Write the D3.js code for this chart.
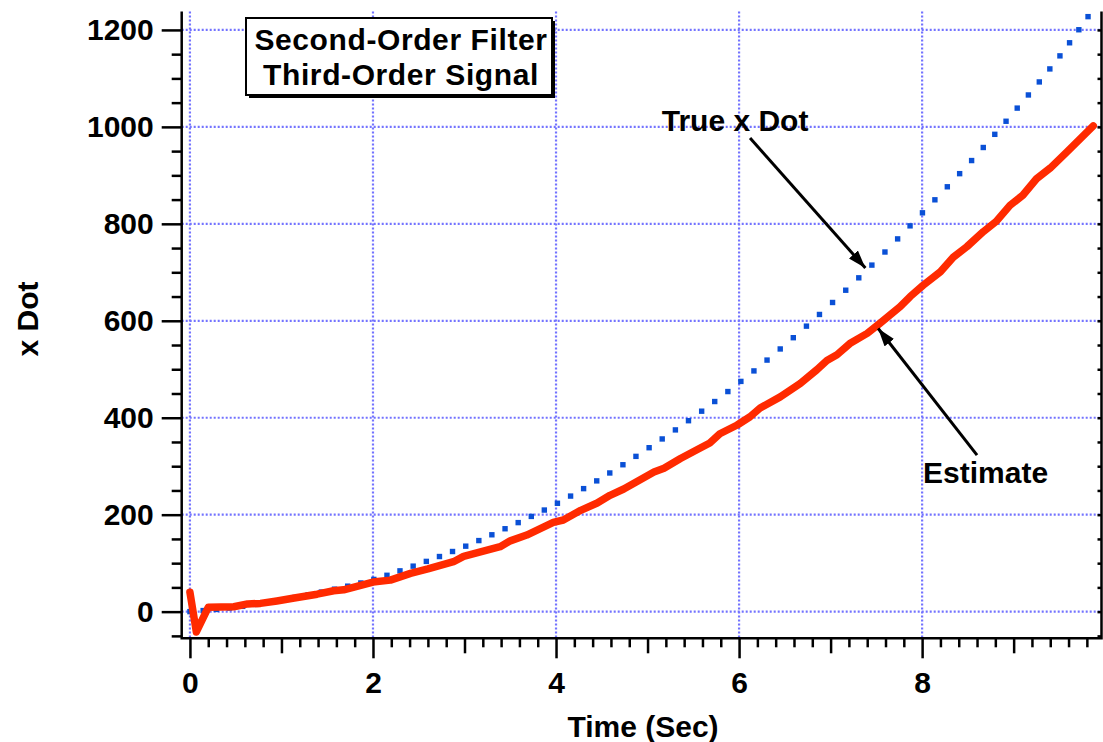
<!DOCTYPE html>
<html>
<head>
<meta charset="utf-8">
<style>
html, body { margin:0; padding:0; background:white; }
svg text { font-family:"Liberation Sans", Arial, Helvetica, sans-serif; font-weight:bold; fill:black; }
.axis line { stroke:black; stroke-width:2.5; }
.axis path { display:none; }
</style>
</head>
<body>
<div id="chart"></div>
<script src="https://d3js.org/d3.v7.min.js"></script>
<script>
// true x dot
const tTrue = [0, 0.5, 1, 1.5, 2, 2.5, 3, 3.5, 4, 4.5, 5, 5.5, 6, 6.5, 7, 7.5, 8, 8.5, 9, 9.5, 9.83];
const vTrue = [0, 9, 24, 43, 66, 98, 134, 176, 222, 276, 336, 401, 472, 550, 634, 724, 822, 922, 1030, 1145, 1232];

// filter estimate (red curve)
const tEst = [0, 0.07, 0.2, 0.48, 0.63, 0.77, 0.95, 1.14, 1.39, 1.57, 1.68, 2.0, 2.19, 2.41, 2.6, 2.88, 2.99,
  3.39, 3.5, 3.68, 3.97, 4.08, 4.27, 4.45, 4.59, 4.74, 5.07, 5.18, 5.36, 5.54, 5.68, 5.79, 5.98, 6.12, 6.23,
  6.45, 6.67, 6.85, 6.96, 7.07, 7.21, 7.4, 7.54, 7.76, 7.87, 8.01, 8.2, 8.34, 8.49, 8.67, 8.81, 8.96, 9.1,
  9.25, 9.4, 9.58, 9.87];
const vEst = [40, -42, 9, 10, 16, 17, 22, 28, 36, 43, 45, 61, 65, 79, 88, 103, 114,
  134, 146, 158, 184, 189, 209, 224, 240, 253, 288, 296, 316, 334, 348, 367, 385, 402, 420,
  443, 471, 499, 518, 530, 553, 574, 595, 629, 650, 673, 701, 731, 753, 784, 805, 838, 859,
  893, 915, 948, 1002];

const xMajor = [0, 2, 4, 6, 8];
const xMid = [1, 3, 5, 7, 9];
const yMajor = [0, 200, 400, 600, 800, 1000, 1200];
const boxLines = ["Second-Order Filter", "Third-Order Signal"];

const W = 1103, H = 742;
const margin = {top: 11.5, right: 1.5, bottom: 103.7, left: 181.7};
const width = W - margin.left - margin.right,
      height = H - margin.top - margin.bottom;

const svg = d3.select("#chart").append("svg").attr("width", W).attr("height", H);
const g = svg.append("g").attr("transform", `translate(${margin.left},${margin.top})`);

const x = d3.scaleLinear().domain([-0.09, 9.96]).range([0, width]);
const y = d3.scaleLinear().domain([-55, 1238]).range([height, 0]);

// tick positions
const xMinor = d3.range(1, 50).map(i => i / 5).filter(v => Math.abs(v - Math.round(v)) > 1e-6);
const yMinor = d3.range(-50, 1201, 50).filter(v => v % 200 !== 0);
const yAll = d3.range(-50, 1201, 50);

// grid
const gridCol = "#7373ff";
g.append("g").selectAll("line").data(yMajor).join("line")
  .attr("x1", 0).attr("x2", width)
  .attr("y1", d => y(d)).attr("y2", d => y(d))
  .attr("stroke", gridCol).attr("stroke-width", 2.2).attr("stroke-dasharray", "2,2");
g.append("g").selectAll("line").data(xMajor).join("line")
  .attr("x1", d => x(d)).attr("x2", d => x(d))
  .attr("y1", 0).attr("y2", height)
  .attr("stroke", gridCol).attr("stroke-width", 2.2).attr("stroke-dasharray", "2,2");

// axes
g.append("g").attr("class", "axis").attr("transform", `translate(0,${height})`)
  .call(d3.axisBottom(x).tickValues(xMinor).tickSize(9).tickFormat(""));
g.append("g").attr("class", "axis").attr("transform", `translate(0,${height})`)
  .call(d3.axisBottom(x).tickValues(xMid).tickSize(15).tickFormat(""));
g.append("g").attr("class", "axis").attr("transform", `translate(0,${height})`)
  .call(d3.axisBottom(x).tickValues(xMajor).tickSize(20).tickPadding(13).tickFormat(d3.format("d")))
  .selectAll("text").style("font-size", "30px");

g.append("g").attr("class", "axis")
  .call(d3.axisLeft(y).tickValues(yMinor).tickSize(10).tickFormat(""));
g.append("g").attr("class", "axis")
  .call(d3.axisLeft(y).tickValues(yMajor).tickSize(20).tickPadding(8).tickFormat(d3.format("d")))
  .selectAll("text").style("font-size", "30px");

g.append("g").attr("class", "axis").attr("transform", `translate(${width},0)`)
  .call(d3.axisRight(y).tickValues(yAll).tickSize(-4).tickFormat(""));

// frame (left, bottom, right)
g.append("path")
  .attr("d", `M0,0V${height}H${width}V0`)
  .attr("fill", "none").attr("stroke", "black").attr("stroke-width", 2.5);

// true x dot: dotted line
const trueLine = d3.line().x((d, i) => x(tTrue[i])).y(d => y(d)).curve(d3.curveMonotoneX);
const guide = g.append("path").attr("d", trueLine(vTrue)).attr("fill", "none").attr("stroke", "none");
const node = guide.node(), L = node.getTotalLength();
const dots = [];
let last = null;
for (let s = 0; s <= L; s += 0.25) {
  const p = node.getPointAtLength(s);
  if (!last || Math.max(Math.abs(p.x - last.x), Math.abs(p.y - last.y)) >= 13) {
    dots.push(p); last = p;
  }
}
g.append("g").selectAll("rect").data(dots).join("rect")
  .attr("x", p => p.x - 2.7).attr("y", p => p.y - 2.7)
  .attr("width", 5.4).attr("height", 5.4)
  .attr("fill", "#0a50d6");

// estimate
const estLine = d3.line().x((d, i) => x(tEst[i])).y(d => y(d));
g.append("path").attr("d", estLine(vEst))
  .attr("fill", "none").attr("stroke", "#ff2a00").attr("stroke-width", 7.5)
  .attr("stroke-linejoin", "round").attr("stroke-linecap", "round");

// arrows + labels
svg.append("defs").append("marker")
  .attr("id", "ah").attr("viewBox", "0 0 18 12").attr("refX", 18).attr("refY", 6)
  .attr("markerWidth", 18).attr("markerHeight", 12).attr("markerUnits", "userSpaceOnUse")
  .attr("orient", "auto")
  .append("path").attr("d", "M0,0L18,6L0,12Z").attr("fill", "black");

const notes = [
  {label: "True x Dot", lt: 5.155, lv: 992, from: [6.12, 977], to: [7.38, 709]},
  {label: "Estimate", lt: 8.01, lv: 266, from: [8.6, 323], to: [7.52, 584]}
];
notes.forEach(n => {
  g.append("line")
    .attr("x1", x(n.from[0])).attr("y1", y(n.from[1]))
    .attr("x2", x(n.to[0])).attr("y2", y(n.to[1]))
    .attr("stroke", "black").attr("stroke-width", 3)
    .attr("marker-end", "url(#ah)");
  g.append("text").attr("x", x(n.lt)).attr("y", y(n.lv))
    .style("font-size", "30px").text(n.label);
});

// title box
const box = svg.append("g");
box.append("rect").attr("x", 249).attr("y", 21).attr("width", 306).attr("height", 77).attr("fill", "black");
box.append("rect").attr("x", 246).attr("y", 18).attr("width", 306).attr("height", 77)
  .attr("fill", "white").attr("stroke", "black").attr("stroke-width", 2);
box.selectAll("text.t").data(boxLines).join("text").attr("class", "t")
  .attr("x", 401).attr("y", (d, i) => 50 + i * 35)
  .attr("text-anchor", "middle").style("font-size", "30px").style("letter-spacing", "0.6px")
  .text(d => d);

// axis titles
svg.append("text").attr("x", 643).attr("y", 737).attr("text-anchor", "middle")
  .style("font-size", "30px").text("Time (Sec)");
svg.append("text").attr("transform", "translate(38,319) rotate(-90)").attr("text-anchor", "middle")
  .style("font-size", "30px").text("x Dot");
</script>
</body>
</html>
